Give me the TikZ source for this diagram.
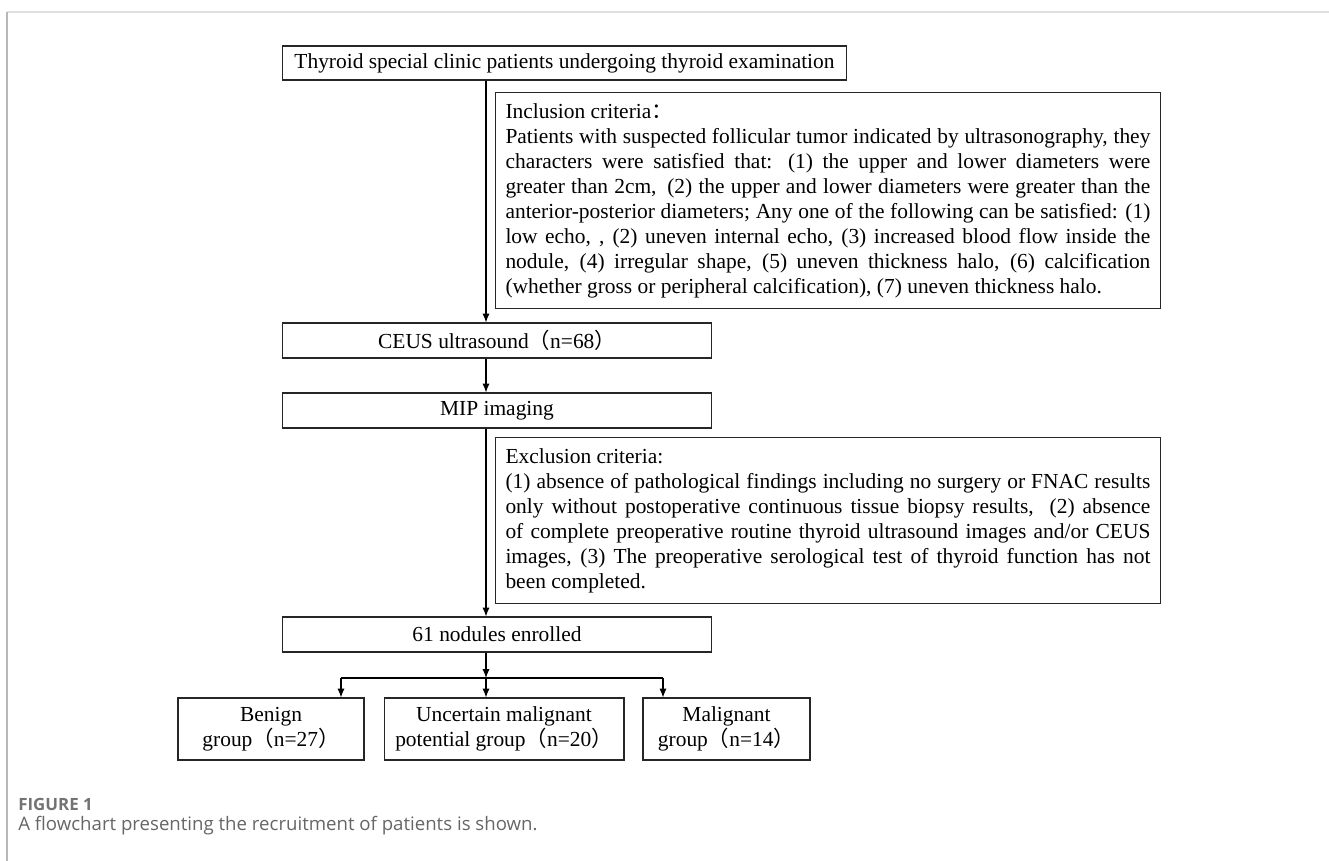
\documentclass[tikz,border=0pt]{standalone}
\usepackage{fontspec}
\setmainfont{Liberation Serif}
\newfontfamily\cjk{Noto Sans CJK SC}
\newfontfamily\capfont{Open Sans}
\usetikzlibrary{arrows.meta}

\begin{document}
\begin{tikzpicture}[x=0.02cm, y=-0.02cm, >={Latex[length=5pt,width=4pt]},
  every node/.style={font=\fontsize{12.2}{14.2}\selectfont}]
  \tikzstyle{b}=[draw=black!85,line width=0.6pt,minimum height=0.7cm,inner sep=0pt]
  \tikzstyle{crit}=[draw=black!85,line width=0.6pt,anchor=north west,text width=12.9cm,inner xsep=0.2cm,inner ysep=0.22cm,align=justify]
  \tikzstyle{grp}=[draw=black!85,line width=0.6pt,minimum height=1.24cm,align=center,inner sep=0pt]
  \useasboundingbox (0,0) rectangle (1329,861);
  \draw[black!12,line width=1.2pt] (7,12) -- (1329,12);
  \draw[black!28,line width=1.2pt] (7,12) -- (7,861);
  \node[b,minimum width=11.3cm,minimum height=0.68cm] (top) at (564.5,63) {Thyroid special clinic patients undergoing thyroid examination};
  \node[crit] (inc) at (495,92) {Inclusion criteria{\cjk ：}\\
    Patients with suspected follicular tumor indicated by ultrasonography, they\linebreak
    characters were satisfied that: (1) the upper and lower diameters were\linebreak
    greater than 2cm,\enspace(2) the upper and lower diameters were greater than the\linebreak
    anterior-posterior diameters; Any one of the following can be satisfied: (1)\linebreak
    low echo, , (2) uneven internal echo, (3) increased blood flow inside the\linebreak
    nodule, (4) irregular shape, (5) uneven thickness halo, (6) calcification\linebreak
    (whether gross or peripheral calcification), (7) uneven thickness halo.};
  \node[b,minimum width=8.6cm] (ceus) at (497,340.5) {CEUS ultrasound{\cjk（}n=68{\cjk）}};
  \node[b,minimum width=8.6cm] (mip) at (497,410.5) {MIP imaging};
  \node[crit] (exc) at (495,437) {Exclusion criteria:\\
    (1) absence of pathological findings including no surgery or FNAC results\linebreak
    only without postoperative continuous tissue biopsy results,\ \ (2) absence\linebreak
    of complete preoperative routine thyroid ultrasound images and/or CEUS\linebreak
    images, (3) The preoperative serological test of thyroid function has not\linebreak
    been completed.};
  \node[b,minimum width=8.6cm] (enr) at (497,634.5) {61 nodules enrolled};
  \node[grp,minimum width=3.72cm] (ben) at (271,729) {Benign\\group{\cjk（}n=27{\cjk）}};
  \node[grp,minimum width=4.8cm] (unc) at (504,729) {Uncertain malignant\\potential group{\cjk（}n=20{\cjk）}};
  \node[grp,minimum width=3.34cm] (mal) at (726.5,729) {Malignant\\group{\cjk（}n=14{\cjk）}};
  \coordinate (k) at (486,0);
  \coordinate (j) at (486,678);
  \coordinate (jl) at (341,678);
  \coordinate (jr) at (663,678);
  \draw[->,line width=0.6pt] (k |- top.south) -- (k |- ceus.north);
  \draw[->,line width=0.6pt] (k |- ceus.south) -- (k |- mip.north);
  \draw[->,line width=0.6pt] (k |- mip.south) -- (k |- enr.north);
  \draw[->,line width=0.6pt] (k |- enr.south) -- (j);
  \draw[line width=0.6pt] (jl) -- (jr);
  \draw[->,line width=0.6pt] (jl) -- (jl |- ben.north); \draw[->,line width=0.6pt] (j) -- (j |- unc.north);
  \draw[->,line width=0.6pt] (jr) -- (jr |- mal.north);
  \node[anchor=west,font=\capfont\bfseries\fontsize{9.6}{11}\selectfont,text=black!55,inner sep=0pt] (fig) at (18,804) {FIGURE 1};
  \node[anchor=west,font=\capfont\fontsize{10.6}{12}\selectfont,text=black!60,inner sep=0pt] (cap) at (18,826) {A flowchart presenting the recruitment of patients is shown.};
\end{tikzpicture}
\end{document}
